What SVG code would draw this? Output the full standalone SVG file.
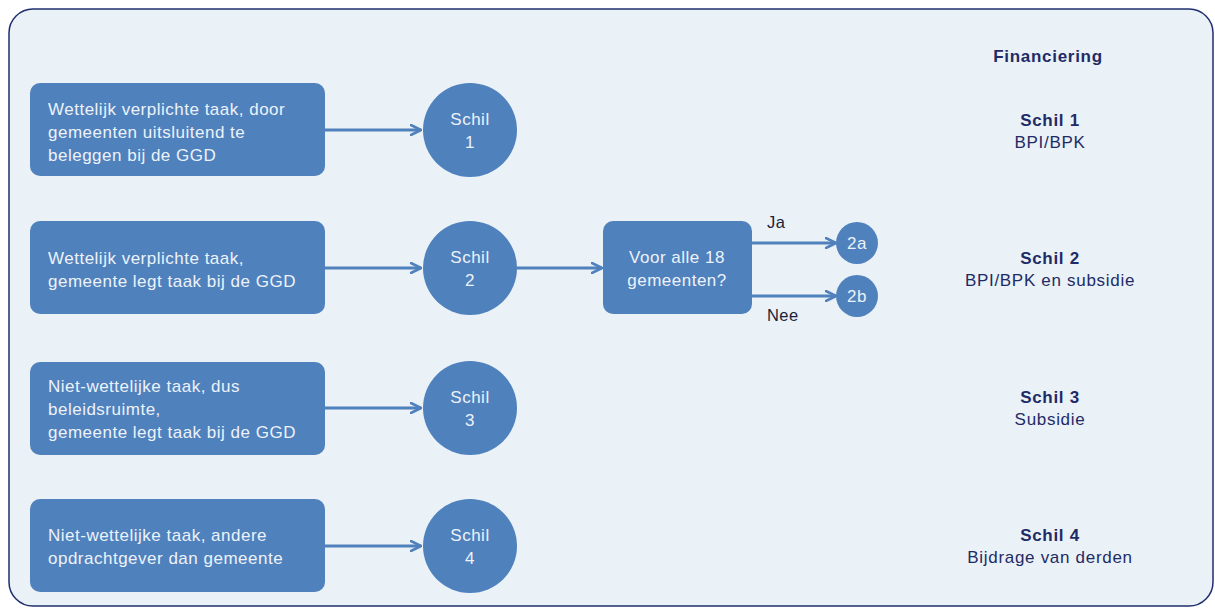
<svg xmlns="http://www.w3.org/2000/svg" width="1215" height="608" viewBox="0 0 1215 608">
<defs>
<marker id="arr" viewBox="0 0 12 12" refX="11" refY="6" markerWidth="12" markerHeight="12" markerUnits="userSpaceOnUse" orient="auto">
<path d="M1,1 L11,6 L1,11" fill="none" stroke="#4f81bd" stroke-width="2.6" stroke-linecap="round" stroke-linejoin="round"/>
</marker>
<style>
.box{fill:#4f81bd;}
.t{font-family:"Liberation Sans",Arial,sans-serif;font-size:17px;letter-spacing:0.5px;fill:#edf2f9;}
.c{text-anchor:middle;}
.edge{stroke:#4f81bd;stroke-width:3;fill:none;marker-end:url(#arr);}
.fin{font-family:"Liberation Sans",Arial,sans-serif;font-size:17px;letter-spacing:0.7px;fill:#1f2b66;text-anchor:middle;}
.b{font-weight:bold;}
.lbl{font-family:"Liberation Sans",Arial,sans-serif;font-size:16.5px;letter-spacing:0.4px;fill:#1a1f3a;}
</style>
</defs>
<rect x="9" y="9" width="1204" height="597" rx="24" fill="#eaf1f7" stroke="#1f2f6e" stroke-width="1.5"/>
<g id="connectors">
<line class="edge" x1="325" y1="130" x2="421" y2="130"/>
<line class="edge" x1="325" y1="268" x2="421" y2="268"/>
<line class="edge" x1="325" y1="408" x2="421" y2="408"/>
<line class="edge" x1="325" y1="546" x2="421" y2="546"/>
<line class="edge" x1="517" y1="268" x2="602" y2="268"/>
<line class="edge" x1="752" y1="243" x2="836" y2="243"/>
<line class="edge" x1="752" y1="296" x2="836" y2="296"/>
<text class="lbl" x="767" y="228">Ja</text>
<text class="lbl" x="767" y="321">Nee</text>
</g>
<g id="box1"><rect class="box" x="30" y="83" width="295" height="93" rx="10"/>
<text class="t" x="48" y="115">Wettelijk verplichte  taak, door</text>
<text class="t" x="48" y="138">gemeenten  uitsluitend te</text>
<text class="t" x="48" y="161">beleggen  bij de GGD</text></g>
<g id="box2"><rect class="box" x="30" y="221" width="295" height="93" rx="10"/>
<text class="t" x="48" y="264">Wettelijk verplichte  taak,</text>
<text class="t" x="48" y="287">gemeente legt taak bij de GGD</text></g>
<g id="box3"><rect class="box" x="30" y="362" width="295" height="93" rx="10"/>
<text class="t" x="48" y="392">Niet-wettelijke taak, dus</text>
<text class="t" x="48" y="415">beleidsruimte,</text>
<text class="t" x="48" y="438">gemeente legt taak bij de GGD</text></g>
<g id="box4"><rect class="box" x="30" y="499" width="295" height="93" rx="10"/>
<text class="t" x="48" y="541">Niet-wettelijke taak, andere</text>
<text class="t" x="48" y="564">opdrachtgever  dan gemeente</text></g>
<g id="schil1"><circle class="box" cx="470" cy="130" r="47"/>
<text class="t c" x="470" y="125">Schil</text><text class="t c" x="470" y="148">1</text></g>
<g id="schil2"><circle class="box" cx="470" cy="268" r="47"/>
<text class="t c" x="470" y="263">Schil</text><text class="t c" x="470" y="286">2</text></g>
<g id="schil3"><circle class="box" cx="470" cy="408" r="47"/>
<text class="t c" x="470" y="403">Schil</text><text class="t c" x="470" y="426">3</text></g>
<g id="schil4"><circle class="box" cx="470" cy="546" r="47"/>
<text class="t c" x="470" y="541">Schil</text><text class="t c" x="470" y="564">4</text></g>
<g id="decision"><rect class="box" x="603" y="221" width="149" height="93" rx="10"/>
<text class="t c" x="677" y="263">Voor alle 18</text>
<text class="t c" x="677" y="286">gemeenten?</text></g>
<g id="n2a"><circle class="box" cx="857" cy="243" r="21"/><text class="t c" x="857" y="249">2a</text></g>
<g id="n2b"><circle class="box" cx="857" cy="296" r="21"/><text class="t c" x="857" y="302">2b</text></g>
<g id="financiering">
<text class="fin b" x="1048" y="62">Financiering</text>
<text class="fin b" x="1050" y="126">Schil 1</text><text class="fin" x="1050" y="148">BPI/BPK</text>
<text class="fin b" x="1050" y="264">Schil 2</text><text class="fin" x="1050" y="286">BPI/BPK en subsidie</text>
<text class="fin b" x="1050" y="403">Schil 3</text><text class="fin" x="1050" y="425">Subsidie</text>
<text class="fin b" x="1050" y="541">Schil 4</text><text class="fin" x="1050" y="563">Bijdrage van  derden</text>
</g>
</svg>
